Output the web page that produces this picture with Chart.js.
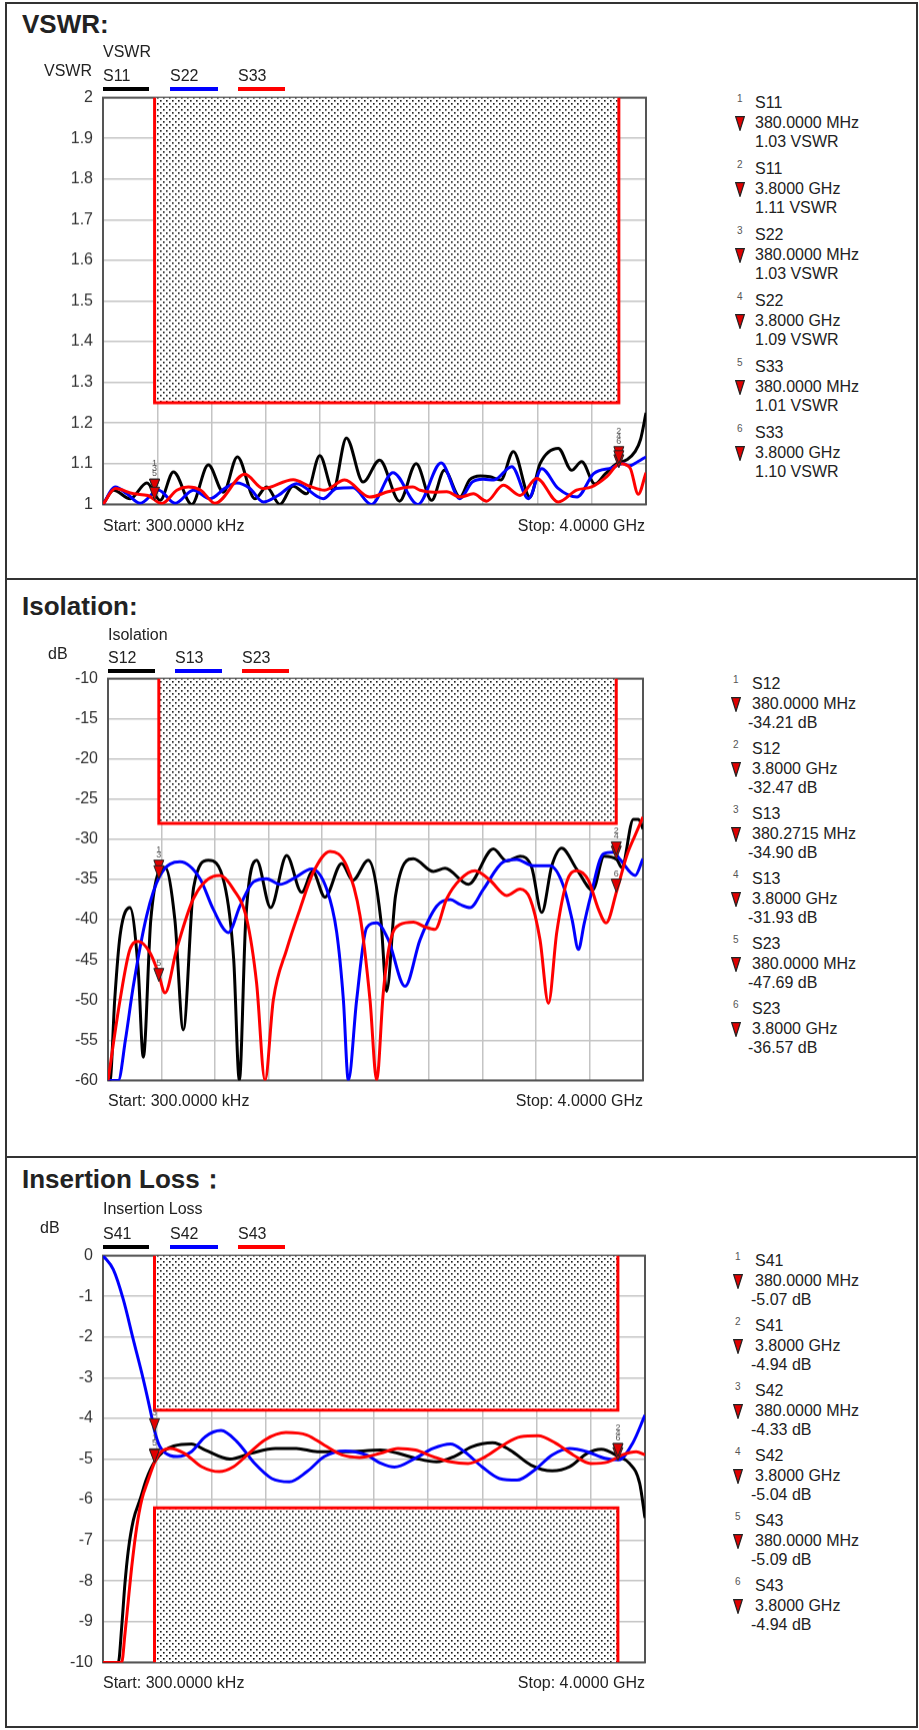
<!DOCTYPE html>
<html>
<head>
<meta charset="utf-8">
<script src="https://cdn.jsdelivr.net/npm/chart.js@4.4.1/dist/chart.umd.min.js"></script>
<style>
  body { margin: 0; background: #fff; }
  #page { position: relative; width: 919px; height: 1730px; overflow: hidden; font-family: "Liberation Sans", Arial, sans-serif; color: #222; }
  .t { position: absolute; white-space: nowrap; line-height: 1; }
  .bar { position: absolute; height: 4px; }
  .hl { position: absolute; background: #333; }
  canvas { position: absolute; }
  svg { position: absolute; }
</style>
</head>
<body>
<div id="page">
  <canvas id="cVswr"></canvas>
  <canvas id="cIso"></canvas>
  <canvas id="cIl"></canvas>
</div>
<script>
// ---- data (frequency in MHz) ----
const vswrFreqS11 = [0.3, 78, 200, 323, 421, 519, 654, 776, 887, 990, 1119, 1205, 1303, 1400, 1499, 1597, 1695, 1793, 1916, 2038, 2185, 2307, 2421, 2515, 2630, 2700, 2780, 2850, 2930, 3023, 3145, 3219, 3354, 3452, 3526, 3624, 3700, 3784, 3860, 3920, 3960, 4000];
const vswrS11 = [1.000, 1.035, 1.014, 1.053, 1.010, 1.080, 1.000, 1.097, 1.030, 1.117, 1.014, 1.043, 1.000, 1.045, 1.026, 1.120, 1.035, 1.163, 1.055, 1.109, 1.008, 1.100, 1.010, 1.084, 1.018, 1.060, 1.070, 1.068, 1.060, 1.130, 1.018, 1.100, 1.138, 1.084, 1.105, 1.050, 1.075, 1.100, 1.110, 1.130, 1.160, 1.225];
const vswrFreqS22 = [0.3, 91, 176, 274, 409, 531, 666, 789, 900, 985, 1080, 1181, 1290, 1426, 1622, 1720, 1842, 1977, 2136, 2320, 2491, 2629, 2720, 2800, 2880, 3011, 3134, 3232, 3350, 3492, 3615, 3750, 3830, 3880, 3940, 4000];
const vswrS22 = [1.000, 1.043, 1.026, 1.003, 1.035, 1.003, 1.035, 1.014, 1.040, 1.053, 1.040, 1.006, 1.022, 1.051, 1.014, 1.039, 1.041, 1.000, 1.078, 1.000, 1.102, 1.014, 1.055, 1.062, 1.060, 1.093, 1.014, 1.088, 1.040, 1.018, 1.076, 1.090, 1.100, 1.095, 1.105, 1.117];
const vswrFreqS33 = [0.3, 91, 225, 330, 433, 544, 629, 720, 825, 1046, 1180, 1401, 1520, 1633, 1780, 1964, 2099, 2200, 2283, 2335, 2433, 2532, 2630, 2728, 2826, 2949, 3072, 3195, 3354, 3489, 3600, 3710, 3808, 3882, 3943, 4000];
const vswrS33 = [1.000, 1.039, 1.026, 1.022, 1.002, 1.035, 1.043, 1.035, 1.003, 1.074, 1.039, 1.061, 1.045, 1.035, 1.060, 1.018, 1.031, 1.040, 1.043, 1.035, 1.030, 1.031, 1.018, 1.026, 1.008, 1.047, 1.022, 1.064, 1.006, 1.035, 1.043, 1.068, 1.100, 1.090, 1.025, 1.078];

const isoFreqS12 = [0.3, 15, 50, 90, 164, 225, 264, 320, 426, 500, 563, 640, 750, 870, 940, 982, 1030, 1111, 1216, 1336, 1448, 1530, 1622, 1747, 1830, 1946, 2040, 2083, 2150, 2283, 2433, 2520, 2694, 2881, 2981, 3081, 3168, 3243, 3318, 3392, 3504, 3624, 3709, 3804, 3841, 3928, 3966, 4000];
const isoS12 = [-60, -60, -50, -42, -38.5, -46, -57.1, -40, -33.5, -40, -53.7, -36, -32.6, -35.5, -45, -60, -40, -32.6, -38.5, -32.0, -36.6, -34.0, -37.2, -33.0, -35.1, -32.6, -40, -48.9, -37, -32.4, -34.0, -33.6, -35.6, -31.2, -32.7, -32.1, -33.5, -39.1, -33.3, -31.1, -33.7, -36.3, -32.1, -32.5, -33.5, -27.5, -27.5, -28.7];
const isoFreqS13 = [0.3, 77, 130, 189, 289, 389, 538, 688, 787, 900, 987, 1087, 1186, 1286, 1386, 1523, 1635, 1710, 1760, 1797, 1859, 1934, 2009, 2096, 2221, 2333, 2458, 2558, 2632, 2707, 2807, 2956, 3056, 3181, 3305, 3405, 3470, 3517, 3560, 3604, 3704, 3779, 3829, 3941, 4000];
const isoS13 = [-60, -60, -55, -48.3, -39.5, -34.5, -32.8, -34.9, -38.7, -41.6, -38.3, -35.3, -34.9, -35.6, -34.9, -33.7, -36.2, -41.6, -50, -60, -50, -41.0, -40.4, -42.5, -48.3, -42.5, -38.3, -37.5, -38.1, -38.5, -36.2, -32.8, -32.5, -33.3, -33.3, -35.8, -40, -43.7, -40.5, -37.4, -31.8, -31.6, -32.5, -34.5, -32.4];
const isoFreqS23 = [0.3, 90, 164, 227, 314, 376, 426, 513, 638, 787, 837, 937, 1037, 1111, 1174, 1236, 1336, 1435, 1535, 1660, 1784, 1884, 1959, 2009, 2058, 2108, 2183, 2283, 2370, 2445, 2532, 2632, 2744, 2856, 2981, 3081, 3156, 3230, 3293, 3355, 3430, 3505, 3592, 3667, 3724, 3804, 3879, 3941, 4000];
const isoS23 = [-60, -50, -43.7, -42.7, -44.1, -46.6, -49.1, -43.7, -37.4, -34.6, -34.5, -36.2, -39.9, -47.9, -60, -50, -43.7, -38.7, -34.1, -31.5, -33.3, -39.5, -50, -60, -49.1, -42.9, -40.6, -40.3, -40.9, -41.2, -37.4, -35.0, -33.9, -35.1, -37.0, -36.2, -37.4, -42.5, -50.4, -41.6, -35.3, -33.9, -35.1, -38.7, -40.4, -36.4, -32.0, -29.5, -27.2];

const ilFreqS41 = [0.3, 113, 138, 162, 187, 224, 273, 320, 380, 450, 522, 652, 755, 936, 1091, 1272, 1427, 1582, 1789, 2048, 2177, 2306, 2462, 2591, 2720, 2875, 3004, 3159, 3315, 3444, 3573, 3677, 3806, 3884, 3961, 4000];
const ilS41 = [-10, -10, -9.13, -8.06, -7.24, -6.5, -6.0, -5.5, -5.07, -4.8, -4.68, -4.63, -4.78, -5.0, -4.86, -4.74, -4.74, -4.82, -4.82, -4.78, -4.86, -4.98, -5.07, -4.94, -4.7, -4.6, -4.78, -5.15, -5.29, -5.19, -4.86, -4.76, -4.94, -5.1, -5.6, -6.45];
const ilFreqS42 = [0.3, 76, 150, 224, 298, 359, 380, 421, 500, 548, 652, 755, 871, 988, 1117, 1246, 1375, 1505, 1634, 1789, 1944, 2048, 2151, 2306, 2436, 2565, 2668, 2797, 2926, 3056, 3185, 3315, 3444, 3573, 3703, 3806, 3909, 4000];
const ilS42 = [0, -0.34, -1.08, -2.07, -3.05, -3.96, -4.3, -4.7, -4.92, -4.94, -4.82, -4.45, -4.3, -4.57, -5.1, -5.48, -5.56, -5.31, -4.94, -4.8, -4.9, -5.1, -5.2, -4.98, -4.74, -4.63, -4.82, -5.19, -5.48, -5.52, -5.27, -4.9, -4.74, -4.82, -4.98, -5.02, -4.61, -3.92];
const ilFreqS43 = [0.3, 138, 162, 187, 212, 249, 286, 330, 380, 420, 496, 600, 729, 858, 962, 1065, 1194, 1350, 1505, 1634, 1763, 1893, 2048, 2177, 2306, 2436, 2565, 2694, 2823, 2952, 3082, 3211, 3340, 3470, 3599, 3728, 3832, 3935, 4000];
const ilS43 = [-10, -10, -9.3, -8.47, -7.65, -6.67, -6.0, -5.55, -5.09, -4.85, -4.74, -4.86, -5.19, -5.31, -5.19, -4.9, -4.53, -4.35, -4.41, -4.66, -4.9, -4.96, -4.86, -4.74, -4.78, -4.94, -5.07, -5.11, -4.94, -4.66, -4.45, -4.43, -4.61, -4.9, -5.11, -5.07, -4.9, -4.82, -4.9];

// limit lines (spec masks)
const limitStart = 380, limitStop = 3800;
const vswrLimit = 1.25;
const isoLimit = -28;
const ilLimitUpper = -3.8, ilLimitLower = -6.2;

// markers: number, trace, freq (MHz), freq label, value
const vswrMarkers = [
  [1, 'S11', 380, '380.0000 MHz', 1.03], [2, 'S11', 3800, '3.8000 GHz', 1.11],
  [3, 'S22', 380, '380.0000 MHz', 1.03], [4, 'S22', 3800, '3.8000 GHz', 1.09],
  [5, 'S33', 380, '380.0000 MHz', 1.01], [6, 'S33', 3800, '3.8000 GHz', 1.10]
];
const isoMarkers = [
  [1, 'S12', 380, '380.0000 MHz', -34.21], [2, 'S12', 3800, '3.8000 GHz', -32.47],
  [3, 'S13', 380.2715, '380.2715 MHz', -34.90], [4, 'S13', 3800, '3.8000 GHz', -31.93],
  [5, 'S23', 380, '380.0000 MHz', -47.69], [6, 'S23', 3800, '3.8000 GHz', -36.57]
];
const ilMarkers = [
  [1, 'S41', 380, '380.0000 MHz', -5.07], [2, 'S41', 3800, '3.8000 GHz', -4.94],
  [3, 'S42', 380, '380.0000 MHz', -4.33], [4, 'S42', 3800, '3.8000 GHz', -5.04],
  [5, 'S43', 380, '380.0000 MHz', -5.09], [6, 'S43', 3800, '3.8000 GHz', -4.94]
];

const FONT = '"Liberation Sans", Arial, sans-serif';
const page = document.getElementById('page');

function txt(s, x, cy, size, opt) {
  opt = opt || {};
  const d = document.createElement('div');
  d.className = 't';
  d.textContent = s;
  d.style.fontSize = size + 'px';
  d.style.top = (cy - size * 0.49) + 'px';
  if (opt.right != null) d.style.right = (919 - opt.right) + 'px'; else d.style.left = x + 'px';
  if (opt.bold) d.style.fontWeight = 'bold';
  if (opt.color) d.style.color = opt.color;
  page.appendChild(d);
  return d;
}
function bar(x, cy, w, color) {
  const d = document.createElement('div');
  d.className = 'bar';
  d.style.left = x + 'px'; d.style.top = (cy - 2) + 'px'; d.style.width = w + 'px'; d.style.background = color;
  page.appendChild(d);
}
function hline(x, y, w, h) {
  const d = document.createElement('div');
  d.className = 'hl';
  d.style.left = x + 'px'; d.style.top = y + 'px'; d.style.width = w + 'px'; d.style.height = h + 'px';
  page.appendChild(d);
}
function tri(cx, cy) {
  const ns = 'http://www.w3.org/2000/svg';
  const s = document.createElementNS(ns, 'svg');
  s.setAttribute('width', 10); s.setAttribute('height', 15);
  s.style.left = (cx - 5) + 'px'; s.style.top = (cy - 7) + 'px';
  s.innerHTML = '<polygon points="0.7,0.7 9.3,0.7 5,14.3" fill="#e00000" stroke="#222" stroke-width="1.2"/>';
  page.appendChild(s);
}

// outer frame and section dividers
hline(5, 2, 913, 2); hline(5, 2, 2, 1726); hline(916, 2, 2, 1726); hline(5, 1726, 913, 2);
hline(5, 578, 913, 2); hline(5, 1156, 913, 2);

function dots() {
  const c = document.createElement('canvas');
  c.width = 6; c.height = 6;
  const g = c.getContext('2d');
  g.fillStyle = '#fff'; g.fillRect(0, 0, 6, 6);
  g.fillStyle = '#111';
  g.fillRect(1, 1, 1.6, 1.6);
  g.fillRect(4, 4, 1.6, 1.6);
  return g.createPattern(c, 'repeat');
}
const pattern = dots();

function pts(fs, vs) { return fs.map((f, i) => ({ x: f, y: vs[i] })); }

function trace(label, fs, vs, color) {
  return { label, data: pts(fs, vs), borderColor: color, borderWidth: 3, pointRadius: 0, fill: false, cubicInterpolationMode: 'monotone' };
}
function limitBox(top, edge, fillTo) {
  return {
    label: 'limit',
    data: [{ x: limitStart, y: edge }, { x: limitStart, y: top }, { x: limitStop, y: top }, { x: limitStop, y: edge }],
    borderColor: '#ff0000', borderWidth: 3, pointRadius: 0, tension: 0,
    backgroundColor: pattern, fill: fillTo
  };
}

function config(rect, yMin, yMax, yStep, datasets, markers) {
  const framePlugin = {
    id: 'frame',
    beforeDatasetsDraw(chart) {
      const a = chart.chartArea, c = chart.ctx;
      c.save();
      c.strokeStyle = '#555'; c.lineWidth = 2;
      c.strokeRect(a.left, a.top, a.right - a.left, a.bottom - a.top);
      c.restore();
    }
  };
  const markerPlugin = {
    id: 'mk',
    afterDatasetsDraw(chart) {
      const xs = chart.scales.x, ys = chart.scales.y, c = chart.ctx;
      const list = markers.map(m => ({ n: m[0], x: xs.getPixelForValue(m[2]), y: ys.getPixelForValue(m[4]) }));
      c.save();
      list.forEach(m => {
        c.beginPath();
        c.moveTo(m.x - 5, m.y - 13); c.lineTo(m.x + 5, m.y - 13); c.lineTo(m.x, m.y); c.closePath();
        c.fillStyle = '#e00000'; c.fill();
        c.strokeStyle = '#222'; c.lineWidth = 1; c.stroke();
      });
      // stacked marker numbers above clustered triangles
      const used = new Set();
      c.font = '9px ' + FONT; c.fillStyle = '#555'; c.textAlign = 'center'; c.textBaseline = 'bottom';
      list.forEach((m, i) => {
        if (used.has(i)) return;
        const cl = list.map((o, j) => j).filter(j => !used.has(j) && Math.abs(list[j].x - m.x) < 4 && Math.abs(list[j].y - m.y) < 14);
        cl.forEach(j => used.add(j));
        const top = Math.min(...cl.map(j => list[j].y)) - 14;
        cl.slice().reverse().forEach((j, k) => c.fillText(String(list[j].n), m.x, top - k * 5));
      });
      c.restore();
    }
  };
  return {
    type: 'line',
    data: { datasets },
    options: {
      responsive: false, maintainAspectRatio: false, animation: false, devicePixelRatio: 1,
      layout: { padding: { left: 0, top: 0, right: 12, bottom: 0 } },
      plugins: { legend: { display: false }, tooltip: { enabled: false } },
      scales: {
        x: {
          type: 'linear', min: 0, max: 4000,
          ticks: { display: false, stepSize: 400 },
          grid: { color: '#c4c4c4', lineWidth: 1.5, drawTicks: false },
          border: { display: false },
          afterFit(s) { s.height = 0; }
        },
        y: {
          min: yMin, max: yMax,
          ticks: { stepSize: yStep, padding: 10, color: '#333', font: { size: 16, family: FONT },
                   callback: v => String(+v.toFixed(1)) },
          grid: { color: '#c4c4c4', lineWidth: 1.5, drawTicks: false },
          border: { display: false },
          afterFit(s) { s.width = rect.l; }
        }
      }
    },
    plugins: [framePlugin, markerPlugin]
  };
}

function setSize(cv, W, H, top) {
  cv.width = W; cv.height = H;
  cv.style.width = W + 'px'; cv.style.height = H + 'px';
  cv.style.left = '0px'; cv.style.top = top + 'px';
}

// build once to measure the label padding Chart.js adds, then rebuild so the
// plot area lands on the wanted page rectangle
function build(id, rect, yMin, yMax, yStep, datasets, markers) {
  const cv = document.getElementById(id);
  const W = rect.r + 12, H0 = rect.b - rect.t + 40;
  setSize(cv, W, H0, rect.t);
  let ch = new Chart(cv, config(rect, yMin, yMax, yStep, datasets, markers));
  const extraT = ch.chartArea.top, extraB = H0 - ch.chartArea.bottom;
  ch.destroy();
  setSize(cv, W, rect.b - rect.t + extraT + extraB, rect.t - extraT);
  return new Chart(cv, config(rect, yMin, yMax, yStep, datasets, markers));
}

function markerList(list, g0, numX, textX, valX, unit) {
  list.forEach((m, i) => {
    const g = g0 + i * (unit === 'VSWR' ? 66 : 65);
    txt(String(m[0]), numX, g - 4, 10, { color: '#555' });
    txt(m[1], textX, g, 16);
    tri(numX + 3, g + 20);
    txt(m[3], textX, g + 20, 16);
    txt(m[4].toFixed(2) + ' ' + unit, m[4] < 0 ? valX : textX, g + 39, 16);
  });
}

// ---- VSWR ----
txt('VSWR:', 22, 24, 26, { bold: true });
txt('VSWR', 103, 52, 16);
txt('VSWR', 0, 71, 16, { right: 92 });
txt('S11', 103, 76, 16); bar(103, 89, 46, '#000');
txt('S22', 170, 76, 16); bar(170, 89, 48, '#0000ff');
txt('S33', 238, 76, 16); bar(238, 89, 47, '#ff0000');
txt('Start: 300.0000 kHz', 103, 526, 16);
txt('Stop: 4.0000 GHz', 0, 526, 16, { right: 645 });
build('cVswr', { l: 103, t: 98, r: 646, b: 504 }, 1, 2, 0.1, [
  trace('S33', vswrFreqS33, vswrS33, '#ff0000'),
  trace('S22', vswrFreqS22, vswrS22, '#0000ff'),
  trace('S11', vswrFreqS11, vswrS11, '#000000'),
  limitBox(vswrLimit, 2, 'end')
], vswrMarkers);
markerList(vswrMarkers, 103, 737, 755, 755, 'VSWR');

// ---- Isolation ----
txt('Isolation:', 22, 606, 26, { bold: true });
txt('Isolation', 108, 635, 16);
txt('dB', 48, 654, 16);
txt('S12', 108, 658, 16); bar(108, 671, 47, '#000');
txt('S13', 175, 658, 16); bar(175, 671, 47, '#0000ff');
txt('S23', 242, 658, 16); bar(242, 671, 47, '#ff0000');
txt('Start: 300.0000 kHz', 108, 1101, 16);
txt('Stop: 4.0000 GHz', 0, 1101, 16, { right: 643 });
build('cIso', { l: 108, t: 679, r: 643, b: 1080 }, -60, -10, 5, [
  trace('S23', isoFreqS23, isoS23, '#ff0000'),
  trace('S13', isoFreqS13, isoS13, '#0000ff'),
  trace('S12', isoFreqS12, isoS12, '#000000'),
  limitBox(isoLimit, -10, 'end')
], isoMarkers);
markerList(isoMarkers, 684, 733, 752, 748, 'dB');

// ---- Insertion Loss ----
txt('Insertion Loss：', 22, 1179, 26, { bold: true });
txt('Insertion Loss', 103, 1209, 16);
txt('dB', 40, 1228, 16);
txt('S41', 103, 1234, 16); bar(103, 1247, 46, '#000');
txt('S42', 170, 1234, 16); bar(170, 1247, 48, '#0000ff');
txt('S43', 238, 1234, 16); bar(238, 1247, 47, '#ff0000');
txt('Start: 300.0000 kHz', 103, 1683, 16);
txt('Stop: 4.0000 GHz', 0, 1683, 16, { right: 645 });
build('cIl', { l: 103, t: 1256, r: 645, b: 1662 }, -10, 0, 1, [
  trace('S43', ilFreqS43, ilS43, '#ff0000'),
  trace('S42', ilFreqS42, ilS42, '#0000ff'),
  trace('S41', ilFreqS41, ilS41, '#000000'),
  limitBox(ilLimitUpper, 0, 'end'),
  limitBox(ilLimitLower, -10, 'start')
], ilMarkers);
markerList(ilMarkers, 1261, 735, 755, 751, 'dB');
</script>
</body>
</html>
